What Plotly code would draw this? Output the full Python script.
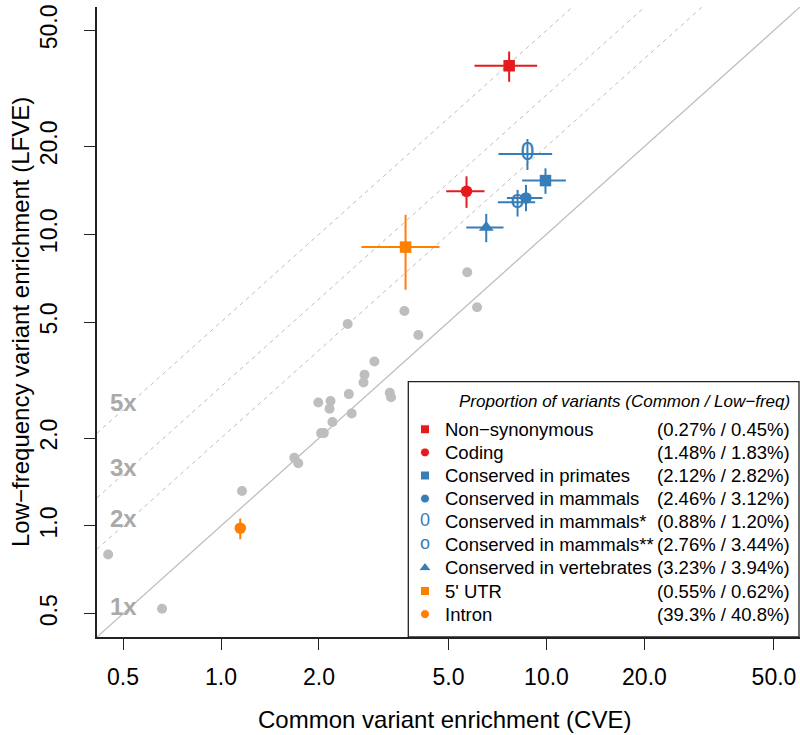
import numpy as np
import plotly.graph_objects as go

# annotation categories (coloured points with 95% CI)
categories = ["Non−synonymous", "Coding", "Conserved in primates", "Conserved in mammals",
              "Conserved in mammals*", "Conserved in mammals**", "Conserved in vertebrates",
              "5' UTR", "Intron"]
proportions = ["(0.27% / 0.45%)", "(1.48% / 1.83%)", "(2.12% / 2.82%)", "(2.46% / 3.12%)",
               "(0.88% / 1.20%)", "(2.76% / 3.44%)", "(3.23% / 3.94%)", "(0.55% / 0.62%)",
               "(39.3% / 40.8%)"]
cve = [7.68, 5.68, 9.93, 8.65, 8.74, 8.15, 6.53, 3.69, 1.146]
cve_lo = [6.01, 4.92, 8.42, 7.56, 7.12, 7.09, 5.67, 2.70, 1.12]
cve_hi = [9.36, 6.45, 11.47, 9.72, 10.41, 9.23, 7.38, 4.69, 1.17]
lfve = [37.8, 14.03, 15.27, 13.32, 18.84, 12.87, 10.55, 9.03, 0.982]
lfve_lo = [33.3, 12.31, 13.75, 11.99, 16.6, 11.5, 9.39, 6.45, 0.90]
lfve_hi = [42.3, 15.79, 16.82, 14.76, 21.2, 14.19, 11.74, 11.65, 1.06]
symbols = ["square", "circle", "square", "circle", "0", "o", "triangle-up", "square", "circle"]

# other annotations (grey)
gray_cve = [0.45, 0.659, 1.16, 1.68, 1.727, 1.99, 2.03, 2.07, 2.17, 2.155, 2.20, 2.45,
            2.47, 2.52, 2.74, 2.76, 2.96, 3.30, 3.33, 3.66, 4.04, 5.71, 6.12]
gray_lfve = [0.798, 0.52, 1.317, 1.713, 1.639, 2.65, 2.08, 2.08, 2.68, 2.52, 2.27, 4.92,
             2.83, 2.43, 3.10, 3.30, 3.66, 2.86, 2.76, 5.45, 4.51, 7.41, 5.62]

fold_lines = [1, 2, 3, 5]
tick_vals = [0.5, 1, 2, 5, 10, 20, 50]
tick_text = ["0.5", "1.0", "2.0", "5.0", "10.0", "20.0", "50.0"]

RED = "#E41A1C"
BLUE = "#377EB8"
ORANGE = "#FF7F00"
GREY = "#BEBEBE"
col_map = {"Non−synonymous": RED, "Coding": RED, "5' UTR": ORANGE, "Intron": ORANGE}
colors = [col_map.get(c, BLUE) for c in categories]

FONT = "Liberation Sans, Arial, Helvetica, sans-serif"
rng = [np.log10(0.5) - 0.08, np.log10(50) + 0.08]

fig = go.Figure()

# reference lines y = k * x
xl = np.array([10 ** rng[0], 10 ** rng[1]])
for k in fold_lines:
    fig.add_trace(go.Scatter(
        x=xl, y=k * xl, mode="lines", hoverinfo="skip", showlegend=False,
        line=dict(color=GREY, width=1.3 if k == 1 else 1,
                  dash="solid" if k == 1 else "4px,4px")))

fig.add_trace(go.Scatter(
    x=gray_cve, y=gray_lfve, mode="markers", showlegend=False,
    marker=dict(size=10, color=GREY, opacity=1)))

for i, name in enumerate(categories):
    c = colors[i]
    err_x = dict(type="data", symmetric=False, array=[cve_hi[i] - cve[i]],
                 arrayminus=[cve[i] - cve_lo[i]], color=c, thickness=2, width=0)
    err_y = dict(type="data", symmetric=False, array=[lfve_hi[i] - lfve[i]],
                 arrayminus=[lfve[i] - lfve_lo[i]], color=c, thickness=2, width=0)
    if symbols[i] in ("0", "o"):
        fig.add_trace(go.Scatter(
            x=[cve[i]], y=[lfve[i]], mode="text", text=[symbols[i]], name=name,
            textfont=dict(size=25, color=c, family=FONT), showlegend=False,
            error_x=err_x, error_y=err_y))
    else:
        fig.add_trace(go.Scatter(
            x=[cve[i]], y=[lfve[i]], mode="markers", name=name, showlegend=False,
            marker=dict(symbol=symbols[i], color=c, opacity=1,
                        size=13 if symbols[i] == "triangle-up" else 11.5),
            error_x=err_x, error_y=err_y))

# hand-built legend on an overlaid unit axis
row_y = [(637 - (429.3 + 23.1 * i)) / 630 for i in range(len(categories))]
sym_x = (425 - 97) / 703
mk = [i for i, s in enumerate(symbols) if s not in ("0", "o")]
tx = [i for i, s in enumerate(symbols) if s in ("0", "o")]
fig.add_trace(go.Scatter(
    x=[sym_x] * len(mk), y=[row_y[i] for i in mk], mode="markers", xaxis="x2", yaxis="y2",
    showlegend=False, hoverinfo="skip",
    marker=dict(symbol=[symbols[i] for i in mk], color=[colors[i] for i in mk], opacity=1,
                size=[11 if symbols[i] == "triangle-up" else 9 for i in mk])))
fig.add_trace(go.Scatter(
    x=[sym_x] * len(tx), y=[row_y[i] for i in tx], mode="text", xaxis="x2", yaxis="y2",
    text=[symbols[i] for i in tx], showlegend=False, hoverinfo="skip",
    textfont=dict(size=18, color=[colors[i] for i in tx], family=FONT)))

annotations = []
for i, name in enumerate(categories):
    annotations.append(dict(x=(442.7 - 97) / 703, y=row_y[i], xref="paper", yref="paper",
                            text=name, showarrow=False, xanchor="left", yanchor="middle",
                            font=dict(size=18.5, color="black", family=FONT)))
    annotations.append(dict(x=(791.7 - 97) / 703, y=row_y[i], xref="paper", yref="paper",
                            text=proportions[i], showarrow=False, xanchor="right",
                            yanchor="middle", font=dict(size=18.5, color="black", family=FONT)))
annotations.append(dict(x=(791.7 - 97) / 703, y=(637 - 401.7) / 630, xref="paper", yref="paper",
                        text="<i>Proportion of variants (Common / Low−freq)</i>",
                        showarrow=False, xanchor="right", yanchor="middle",
                        font=dict(size=17, color="black", family=FONT)))

for k in fold_lines:
    annotations.append(dict(x=np.log10(0.5), y=np.log10(k * 0.5), xref="x", yref="y",
                            text="<b>%dx</b>" % k, showarrow=False, yshift=7,
                            xanchor="center", yanchor="middle",
                            font=dict(size=24, color="#AAAAAA", family=FONT)))

annotations.append(dict(x=0.494, y=-0.1317, xref="paper", yref="paper",
                        text="Common variant enrichment (CVE)", showarrow=False,
                        xanchor="center", yanchor="middle",
                        font=dict(size=24, color="black", family=FONT)))
annotations.append(dict(x=-0.1095, y=0.5, xref="paper", yref="paper", textangle=-90,
                        text="Low−frequency variant enrichment (LFVE)", showarrow=False,
                        xanchor="center", yanchor="middle",
                        font=dict(size=24, color="black", family=FONT)))

axis_common = dict(type="log", range=rng, tickvals=tick_vals, ticktext=tick_text,
                   showgrid=False, zeroline=False, showline=True, linecolor="#222222",
                   linewidth=1.5, ticks="outside", ticklen=11, tickwidth=1.3,
                   tickcolor="#222222", automargin=False,
                   tickfont=dict(size=23, color="black", family=FONT))

fig.update_layout(
    width=800, height=735,
    margin=dict(l=97, r=0, t=7, b=98, autoexpand=False),
    paper_bgcolor="white", plot_bgcolor="white",
    showlegend=False,
    xaxis=dict(**axis_common, ticklabelstandoff=8),
    yaxis=dict(**axis_common, tickangle=-90, ticklabelstandoff=18),
    xaxis2=dict(overlaying="x", anchor="y2", range=[0, 1], visible=False),
    yaxis2=dict(overlaying="y", anchor="x2", range=[0, 1], visible=False),
    shapes=[dict(type="rect", xref="paper", yref="paper",
                 x0=(408.3 - 97) / 703, x1=(799 - 97) / 703, y0=0, y1=(637 - 381.7) / 630,
                 line=dict(color="#222222", width=1.3), fillcolor="white", layer="below")],
    annotations=annotations,
)

# page has a default body margin; remove it so the figure fills the window
fig.write_html("out.html", config={"displayModeBar": False},
               post_script="document.body.style.margin='0';")
